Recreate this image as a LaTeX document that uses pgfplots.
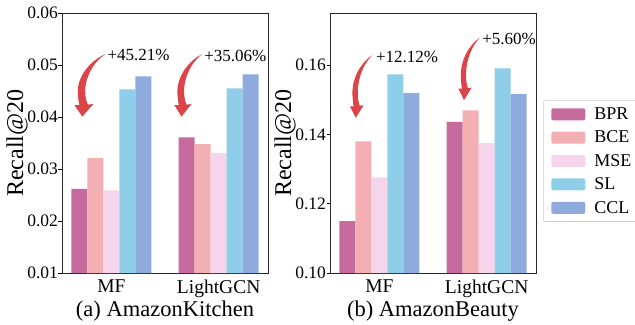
\documentclass[border=0pt]{standalone}
\usepackage{fontspec}
\setmainfont{Liberation Serif}
\usepackage{pgfplots}
\usepackage{pgfplotstable}
\pgfplotsset{compat=1.18}

\definecolor{cBPR}{HTML}{C66B9E}
\definecolor{cBCE}{HTML}{F3AFB3}
\definecolor{cMSE}{HTML}{F6D5EC}
\definecolor{cSL}{HTML}{8ECEE9}
\definecolor{cCCL}{HTML}{8FABDD}
\definecolor{cArrow}{HTML}{DB4448}

\pgfplotstableread{
x BPR BCE MSE SL CCL
0 0.0262 0.0321 0.0259 0.0453 0.0478
1 0.0361 0.0348 0.0331 0.0455 0.0482
}\kitchen

\pgfplotstableread{
x BPR BCE MSE SL CCL
0 0.1150 0.1380 0.1276 0.1573 0.1519
1 0.1436 0.1469 0.1375 0.1590 0.1516
}\beauty

\tikzset{
  ann/.style={anchor=west, font=\rmfamily\fontsize{17bp}{20bp}\selectfont, inner sep=0pt},
}

% tapered curved arrow; #1 = tail position, #2 = horizontal scale
\newcommand{\bigarrow}[2]{%
  \fill[cArrow, shift={#1}, xscale=#2]
    (0bp,0bp) .. controls (-14bp,-6bp) and (-29bp,-22bp) .. (-27.5bp,-40bp)
    .. controls (-27bp,-46bp) and (-26.5bp,-49bp) .. (-26bp,-51bp)
    -- (-31bp,-51bp) -- (-23bp,-62.5bp) -- (-12bp,-50bp) -- (-17.5bp,-50.5bp)
    .. controls (-20bp,-45bp) and (-21bp,-38bp) .. (-19.5bp,-30bp)
    .. controls (-17bp,-17bp) and (-9bp,-6bp) .. (0bp,0bp) -- cycle;}

\pgfplotsset{
  mybar/.style={
    width=206bp, height=260bp, scale only axis,
    ybar=0pt, bar width=16bp,
    xmin=-0.46, xmax=1.46, xtick={0,1}, xticklabels={MF,LightGCN},
    x tick style={draw=none},
    ytick pos=left,
    y tick style={black, line width=0.6bp},
    major tick length=3.5bp, tick align=outside,
    axis line style={line width=0.8bp, black!85},
    yticklabel style={font=\rmfamily\fontsize{17.5bp}{20bp}\selectfont, xshift=3bp,
      /pgf/number format/fixed, /pgf/number format/fixed zerofill, /pgf/number format/precision=2},
    xticklabel style={font=\rmfamily\fontsize{19.5bp}{22bp}\selectfont},
    /pgf/number format/assume math mode=true,
    scaled y ticks=false,
    ylabel={Recall@20},
    ylabel style={at={(axis description cs:-0.218,0.5)}, anchor=center, font=\rmfamily\fontsize{24bp}{28bp}\selectfont},
    xlabel style={at={(axis description cs:0.5,-0.146)}, anchor=center, font=\rmfamily\fontsize{22.5bp}{26bp}\selectfont},
    clip=false,
  },
}

\begin{document}
\begin{tikzpicture}
\path[use as bounding box] (0,0) rectangle (635bp,325bp);

\begin{axis}[mybar, at={(62bp,52bp)}, anchor=south west,
  ymin=0.01, ymax=0.06, ytick={0.01,0.02,0.03,0.04,0.05,0.06},
  xlabel={(a) AmazonKitchen}]
  \addplot[fill=cBPR, draw=none] table[x=x, y=BPR] {\kitchen};
  \addplot[fill=cBCE, draw=none] table[x=x, y=BCE] {\kitchen};
  \addplot[fill=cMSE, draw=none] table[x=x, y=MSE] {\kitchen};
  \addplot[fill=cSL, draw=none] table[x=x, y=SL] {\kitchen};
  \addplot[fill=cCCL, draw=none] table[x=x, y=CCL] {\kitchen};
  \bigarrow{(axis cs:-0.056,0.0521)}{1}
  \node[ann] at (axis cs:-0.037,0.0519) {+45.21\%};
  \bigarrow{(axis cs:0.847,0.0521)}{0.9}
  \node[ann] at (axis cs:0.865,0.0517) {+35.06\%};
\end{axis}

\begin{axis}[mybar, at={(330bp,52bp)}, anchor=south west,
  ymin=0.10, ymax=0.175, ytick={0.10,0.12,0.14,0.16},
  xlabel={(b) AmazonBeauty},
  legend style={draw=black!20, rounded corners=2bp, line width=0.6bp,
    font=\rmfamily\fontsize{18bp}{20bp}\selectfont,
    at={(1.034,0.664)}, anchor=north west, row sep=6bp,
    inner xsep=8bp, inner ysep=5bp, cells={anchor=west},
    /tikz/every odd column/.append style={column sep=7bp}},
  legend image code/.code={\fill[#1,draw=none] (0bp,-6bp) rectangle (34bp,6bp);},
  ]
  \addplot[fill=cBPR, draw=none] table[x=x, y=BPR] {\beauty};
  \addplot[fill=cBCE, draw=none] table[x=x, y=BCE] {\beauty};
  \addplot[fill=cMSE, draw=none] table[x=x, y=MSE] {\beauty};
  \addplot[fill=cSL, draw=none] table[x=x, y=SL] {\beauty};
  \addplot[fill=cCCL, draw=none] table[x=x, y=CCL] {\beauty};
  \legend{BPR,BCE,MSE,SL,CCL}
  \bigarrow{(axis cs:-0.066,0.1628)}{0.72}
  \node[ann] at (axis cs:-0.033,0.1623) {+12.12\%};
  \bigarrow{(axis cs:0.939,0.1679)}{0.7}
  \node[ann] at (axis cs:0.958,0.1675) {+5.60\%};
\end{axis}
\end{tikzpicture}
\end{document}
